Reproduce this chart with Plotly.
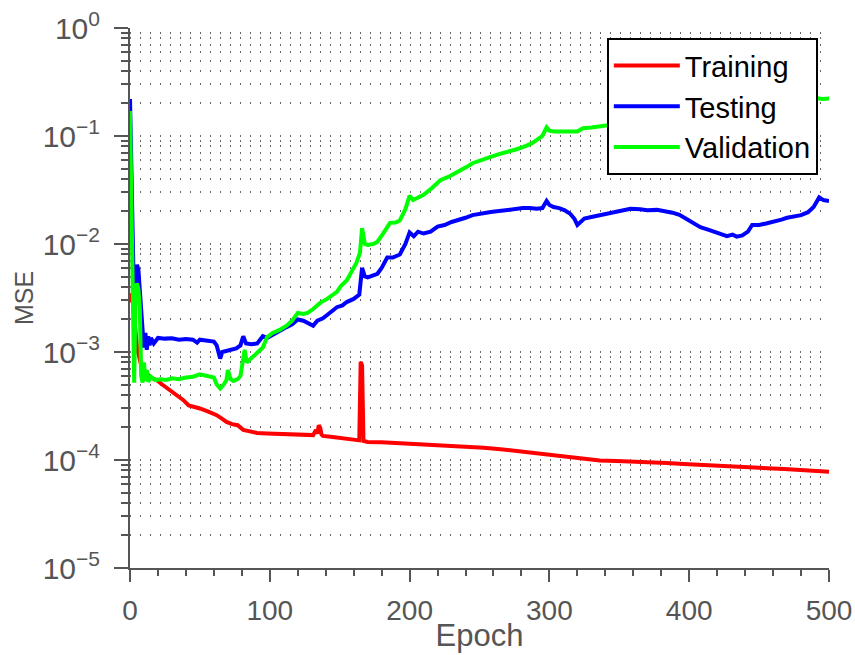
import plotly.graph_objects as go

train_epochs = [0,1,2,3,5,8,11,16,19,23,27,30,34,38,42,46,50,56,62,66,69,73,77,81,86,91,98,105,113,122,128,131,133,134,135,136,137,138,145,152,158,163,164,165,166,167,168,170,180,193,205,217,229,241,253,265,277,288,300,313,327,336,348,360,372,384,396,408,420,431,443,456,468,479,490,500]
train_mse = [3.5e-3,3.0e-3,2.9e-3,2.0e-3,1.1e-3,7.5e-4,6.4e-4,5.7e-4,5.5e-4,5.0e-4,4.6e-4,4.3e-4,4.0e-4,3.6e-4,3.2e-4,3.1e-4,3.0e-4,2.8e-4,2.6e-4,2.4e-4,2.25e-4,2.15e-4,2.1e-4,1.9e-4,1.82e-4,1.78e-4,1.76e-4,1.74e-4,1.72e-4,1.70e-4,1.69e-4,1.70e-4,1.9e-4,1.75e-4,2.1e-4,2.0e-4,1.72e-4,1.67e-4,1.63e-4,1.58e-4,1.55e-4,1.52e-4,1.52e-4,8.1e-4,7.5e-4,1.5e-4,1.49e-4,1.47e-4,1.46e-4,1.43e-4,1.42e-4,1.40e-4,1.37e-4,1.33e-4,1.30e-4,1.26e-4,1.21e-4,1.17e-4,1.11e-4,1.07e-4,1.01e-4,9.9e-5,9.8e-5,9.7e-5,9.55e-5,9.4e-5,9.2e-5,9.0e-5,8.85e-5,8.7e-5,8.55e-5,8.4e-5,8.25e-5,8.1e-5,7.95e-5,7.8e-5]

test_epochs = [0,1,2,3,4,5,6,7,8,9,10,11,12,13,14,15,17,20,25,30,35,40,45,48,50,55,60,62,64.5,66,68,72,76,79,81,83,87,91,95,98,102,107,112,116,120,124,128,131,134,138,141,145,148,152,155,160,164,166,168,170,174,177,180,184,188,193,197,200,203,206,210,215,220,225,230,235,240,245,251,258,264,270,276,281,286,291,295,298,300,303,307,311,315,318,320,322,325,330,336,341,347,353,358,365,370,377,383,388,393,398,403,408,414,420,424,427,431,434,438,442,445,450,455,460,466,470,475,480,485,489,493,496,500]
test_mse = [0.22,0.05,4.5e-3,2.5e-3,5.5e-3,6.4e-3,5.8e-3,3.5e-3,2.1e-3,1.6e-3,1.1e-3,1.5e-3,1.05e-3,1.4e-3,1.15e-3,1.35e-3,1.2e-3,1.35e-3,1.33e-3,1.34e-3,1.30e-3,1.32e-3,1.30e-3,1.22e-3,1.30e-3,1.28e-3,1.25e-3,1.15e-3,8.7e-4,1.0e-3,1.02e-3,1.05e-3,1.08e-3,1.15e-3,1.4e-3,1.2e-3,1.18e-3,1.2e-3,1.4e-3,1.35e-3,1.45e-3,1.55e-3,1.7e-3,1.8e-3,2.0e-3,1.95e-3,1.85e-3,1.75e-3,1.95e-3,2.05e-3,2.2e-3,2.4e-3,2.6e-3,2.7e-3,2.9e-3,3.1e-3,3.4e-3,6.0e-3,5.0e-3,4.9e-3,5.1e-3,5.3e-3,6.0e-3,7.5e-3,7.5e-3,8.0e-3,1.0e-2,1.28e-2,1.18e-2,1.3e-2,1.25e-2,1.3e-2,1.45e-2,1.5e-2,1.6e-2,1.66e-2,1.75e-2,1.85e-2,1.92e-2,1.98e-2,2.02e-2,2.07e-2,2.1e-2,2.15e-2,2.15e-2,2.12e-2,2.15e-2,2.5e-2,2.3e-2,2.2e-2,2.15e-2,2.05e-2,1.9e-2,1.7e-2,1.5e-2,1.6e-2,1.72e-2,1.78e-2,1.85e-2,1.92e-2,1.98e-2,2.05e-2,2.12e-2,2.1e-2,2.05e-2,2.07e-2,2.02e-2,1.95e-2,1.86e-2,1.7e-2,1.55e-2,1.43e-2,1.35e-2,1.28e-2,1.22e-2,1.18e-2,1.22e-2,1.17e-2,1.2e-2,1.3e-2,1.5e-2,1.5e-2,1.55e-2,1.6e-2,1.68e-2,1.75e-2,1.8e-2,1.85e-2,1.97e-2,2.2e-2,2.7e-2,2.55e-2,2.5e-2]

val_epochs = [0,1,2,3,4,5,6,7,8,9,10,11,12,13,15,18,22,26,30,35,40,45,50,55,60,62,64.5,67,69,70,72,74,77,79,81,82,83.5,87,91,95,98,102,107,112,116,120,124,127,131,136,141,145,148,151,155,158,162,164.5,166,168,170,174,177,181,186,190,193,197,200,202.5,206,210,216,222,228,234,240,245,251,258,264,270,276,281,287,291,295,298,300,303,310,317,320,324,330,350,380,410,440,470,491,495,500]
val_mse = [0.17,0.03,4.6e-3,5.2e-4,3.8e-3,4.3e-3,3.8e-3,2.6e-3,6.0e-4,5.2e-4,8.0e-4,5.4e-4,6.8e-4,5.3e-4,5.9e-4,5.5e-4,5.6e-4,5.5e-4,5.7e-4,5.6e-4,5.8e-4,5.9e-4,6.2e-4,6.0e-4,5.8e-4,5.0e-4,4.6e-4,5.0e-4,5.5e-4,6.8e-4,5.6e-4,5.4e-4,5.6e-4,6.0e-4,9e-4,1.05e-3,8.0e-4,8.8e-4,9.9e-4,1.1e-3,1.37e-3,1.5e-3,1.6e-3,1.75e-3,1.95e-3,2.3e-3,2.25e-3,2.3e-3,2.5e-3,2.85e-3,3.1e-3,3.4e-3,3.6e-3,4.1e-3,4.6e-3,5.4e-3,6.7e-3,8.3e-3,1.4e-2,1.0e-2,9.8e-3,1.0e-2,1.05e-2,1.25e-2,1.57e-2,1.58e-2,1.65e-2,2.1e-2,2.8e-2,2.55e-2,2.7e-2,2.85e-2,3.3e-2,3.9e-2,4.2e-2,4.6e-2,5.1e-2,5.6e-2,6.0e-2,6.4e-2,6.8e-2,7.1e-2,7.5e-2,7.9e-2,8.5e-2,9.2e-2,1.0e-1,1.2e-1,1.12e-1,1.1e-1,1.1e-1,1.09e-1,1.1e-1,1.18e-1,1.2e-1,1.3e-1,1.5e-1,1.7e-1,1.9e-1,2.1e-1,2.25e-1,2.2e-1,2.22e-1]

y_major = [1e-5, 1e-4, 1e-3, 1e-2, 1e-1, 1e0]
y_major_text = ["10<sup>−5</sup>", "10<sup>−4</sup>", "10<sup>−3</sup>", "10<sup>−2</sup>", "10<sup>−1</sup>", "10<sup>0</sup>"]
y_minor = [m * 10.0 ** e for e in range(-5, 0) for m in range(2, 10)]
x_major = [0, 100, 200, 300, 400, 500]

AX = "#555555"
FONT = "Liberation Sans, Arial, sans-serif"

fig = go.Figure()
fig.add_trace(go.Scatter(x=train_epochs, y=train_mse, mode="lines", name="Training",
                         line=dict(color="#ff0000", width=4)))
fig.add_trace(go.Scatter(x=test_epochs, y=test_mse, mode="lines", name="Testing",
                         line=dict(color="#0000ff", width=4)))
fig.add_trace(go.Scatter(x=val_epochs, y=val_mse, mode="lines", name="Validation",
                         line=dict(color="#00ff00", width=4)))

fig.update_layout(
    width=855, height=655,
    margin=dict(l=130, r=26, t=28, b=87, autoexpand=False),
    paper_bgcolor="white", plot_bgcolor="white",
    font=dict(family=FONT, color=AX, size=24),
    legend=dict(x=0.984, y=0.981, xanchor="right", yanchor="top",
                bgcolor="white", bordercolor="black", borderwidth=2,
                font=dict(size=29, color="black", family=FONT),
                itemwidth=66, tracegroupgap=0),
    xaxis=dict(range=[0, 500], tickvals=x_major, ticks="outside", ticklen=12,
               tickwidth=2, tickcolor=AX, showline=True, linecolor=AX, linewidth=2,
               showgrid=False, zeroline=False, automargin=False,
               tickfont=dict(size=28, color=AX), ticklabelstandoff=4,
               minor=dict(dtick=20, tick0=0, ticks="outside", ticklen=6, tickwidth=2,
                          tickcolor=AX, showgrid=False),
               title=dict(text="Epoch", font=dict(size=31, color=AX), standoff=0)),
    yaxis=dict(type="log", range=[-5, 0], tickvals=y_major, ticktext=y_major_text,
               ticks="outside", ticklen=14, tickwidth=2, tickcolor=AX,
               showline=True, linecolor=AX, linewidth=2, zeroline=False, automargin=False,
               showgrid=True, gridcolor="#666666", griddash="1px,9px", gridwidth=1.5,
               tickfont=dict(size=30, color=AX), ticklabelstandoff=8,
               minor=dict(tickvals=y_minor, ticks="outside", ticklen=7, tickwidth=2,
                          tickcolor=AX, showgrid=True, gridcolor="#666666",
                          griddash="1px,9px", gridwidth=1.5),
               title=dict(text="MSE", font=dict(size=25, color=AX), standoff=2)),
)

fig.write_html("out.html", config={"displayModeBar": False},
               post_script="document.body.style.margin='0px';document.body.style.overflow='hidden';")
